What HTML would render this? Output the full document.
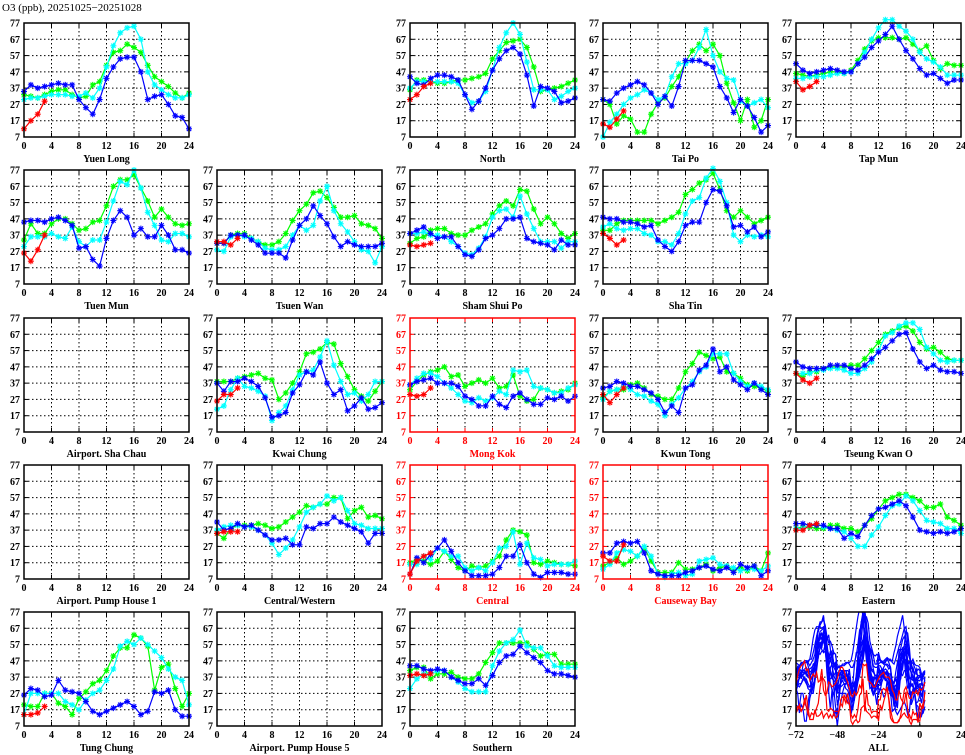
<!DOCTYPE html>
<html><head><meta charset="utf-8"><style>
body{margin:0;background:#fff;}
svg{display:block;font-family:"Liberation Serif",serif;}
</style></head><body>
<svg id="s" width="965" height="755" xmlns="http://www.w3.org/2000/svg"></svg>
<script>
const S=document.getElementById('s');
const cols=[24,217,410,603,796],rows=[23,170,318,465,612],W=165,H=114;
const P=[
[0,0,"Yuen Long",0,[12,17,21,29],[35,39,37,38,39,40,39,39,30,25,21,30,43,50,55,56,56,47,30,32,33,27,20,19,12],[30,31,31,32,33,33,33,32,32,34,31,37,50,63,71,74,75,67,47,39,36,33,31,31,33],[33,32,31,33,35,36,36,33,31,32,39,41,51,59,60,64,62,59,51,44,41,38,34,31,34]],
[0,2,"North",0,[30,33,38,40],[44,40,39,43,45,45,44,42,33,24,29,37,48,55,60,62,58,45,26,38,37,35,28,29,31],[37,41,41,41,41,41,41,40,33,28,29,35,48,62,71,77,70,53,36,36,36,30,32,35,37],[36,42,42,41,40,40,41,42,42,43,44,46,55,60,65,66,67,62,50,35,36,37,38,40,42]],
[0,3,"Tai Po",0,[15,13,18,23],[30,29,34,37,39,41,39,34,27,32,26,38,54,54,54,52,50,38,31,22,30,26,19,10,14],[7,16,21,27,31,33,36,34,30,32,44,52,52,54,62,73,57,47,43,42,29,26,28,30,25],[30,27,15,20,18,10,10,21,28,31,38,44,53,60,64,60,64,57,40,28,17,30,13,17,30]],
[0,4,"Tap Mun",0,[41,36,38,41],[52,48,46,47,48,49,48,47,47,52,56,62,66,70,75,67,60,55,49,45,46,43,40,42,42],[43,43,44,44,44,45,46,46,47,52,59,67,74,79,79,75,72,67,59,55,53,50,45,45,45],[46,45,44,45,46,47,47,46,48,54,61,66,68,68,68,67,68,64,60,63,54,49,52,51,51]],
[1,0,"Tuen Mun",0,[26,21,28,37],[45,46,46,45,47,48,46,43,29,30,22,18,35,46,52,48,37,41,36,36,43,37,28,28,26],[30,36,36,36,38,36,35,42,33,30,34,34,45,58,70,68,77,66,51,43,34,33,38,38,36],[34,44,38,38,44,47,47,44,40,41,45,46,55,67,71,71,74,66,58,48,53,48,44,43,44]],
[1,1,"Tsuen Wan",0,[33,33,31,35],[32,32,37,37,37,34,31,26,26,26,23,34,43,47,55,49,44,36,30,33,31,30,30,30,32],[28,27,36,37,36,35,33,29,28,28,30,37,43,40,43,58,67,52,44,39,33,28,27,20,30],[32,32,37,38,38,35,33,31,31,33,38,46,52,56,63,64,60,54,48,48,49,44,43,41,35]],
[1,2,"Sham Shui Po",0,[31,30,31,32],[38,40,42,38,35,36,36,30,25,24,28,35,37,41,47,47,48,35,33,32,31,28,34,31,31],[38,38,39,37,37,36,33,30,26,25,29,36,48,52,53,48,61,50,41,33,33,33,29,33,33],[32,35,36,40,41,41,38,37,37,40,42,44,50,55,58,55,65,64,53,44,48,44,38,35,38]],
[1,3,"Sha Tin",0,[38,35,31,34],[48,47,47,45,45,44,42,43,34,30,27,33,43,45,45,57,65,64,55,42,43,39,42,36,39],[42,44,41,40,41,41,38,37,33,33,31,38,50,58,60,72,78,70,57,37,33,37,36,37,36],[40,40,44,46,46,46,46,46,44,46,48,51,62,65,69,71,75,65,52,48,52,48,44,46,48]],
[2,0,"Airport. Sha Chau",0,null],
[2,1,"Kwai Chung",0,[26,30,30,34],[37,32,38,38,40,38,35,28,16,17,19,31,36,44,42,50,37,30,33,20,23,28,21,22,25],[21,23,33,40,35,34,32,29,14,19,23,33,42,44,45,53,63,48,38,30,31,26,30,38,38],[38,38,38,40,41,42,43,40,39,27,31,37,44,55,56,58,62,61,49,41,33,29,26,32,38]],
[2,2,"Mong Kok",1,[30,29,30,34],[36,38,39,40,37,37,37,35,29,27,23,23,29,24,22,29,31,27,24,24,28,27,29,26,29],[36,40,43,43,41,37,34,30,26,25,28,26,28,32,30,45,44,45,35,34,33,31,31,34,36],[33,38,42,44,45,47,41,42,35,37,39,37,40,34,35,42,29,26,27,34,33,31,32,33,37]],
[2,3,"Kwun Tong",0,[30,25,30,34],[34,35,38,37,35,35,33,31,27,19,23,19,34,36,45,48,58,44,47,39,36,33,37,33,30],[27,32,33,35,33,30,29,26,24,17,24,28,34,38,44,47,55,55,55,43,38,35,37,35,33],[28,32,33,33,36,37,34,30,29,27,27,34,44,49,56,54,52,53,44,43,40,36,35,34,32]],
[2,4,"Tseung Kwan O",0,[43,39,37,40],[50,47,46,46,46,48,48,48,46,45,48,52,56,59,63,67,68,58,50,46,48,45,44,44,43],[43,43,43,45,45,46,46,45,43,43,46,50,57,66,68,72,74,74,70,59,55,51,50,51,51],[43,41,44,44,46,47,47,47,48,48,52,57,62,67,69,71,72,69,62,58,59,56,52,51,51]],
[3,0,"Airport. Pump House 1",0,null],
[3,1,"Central/Western",0,[35,36,36,36],[42,37,38,41,39,40,37,34,31,31,32,28,28,39,38,41,41,45,42,40,38,36,29,35,35],[37,39,40,40,39,39,37,34,29,22,26,31,39,48,51,53,58,55,57,49,41,40,38,38,38],[35,32,38,40,40,40,41,40,38,39,42,45,48,52,51,53,53,57,57,44,49,51,45,46,44]],
[3,2,"Central",1,[10,18,21,23],[10,20,17,22,26,31,24,17,12,9,9,9,10,14,21,21,28,17,10,8,11,11,11,10,10],[16,16,21,19,26,24,21,21,14,12,14,12,17,26,27,36,16,29,20,19,15,16,16,16,18],[17,19,18,16,18,24,19,14,12,15,14,15,18,21,31,37,36,34,17,16,18,17,16,16,15]],
[3,3,"Causeway Bay",1,[21,18,18,28],[23,23,29,30,29,30,23,12,10,9,9,9,11,12,14,15,13,12,14,11,16,14,15,9,12],[13,16,23,25,24,21,27,21,10,8,10,11,9,10,18,19,20,16,15,14,12,13,13,12,15],[15,17,20,16,18,21,26,18,11,11,11,17,13,13,14,16,12,14,15,12,14,12,15,12,23]],
[3,4,"Eastern",0,[37,37,40,41],[41,41,40,40,40,38,38,32,35,33,40,46,50,51,53,55,52,45,37,36,35,36,35,36,38],[38,38,40,41,39,38,37,36,32,27,27,34,39,46,52,53,58,55,49,43,42,41,38,38,35],[38,39,39,38,38,40,40,38,38,36,40,44,50,55,57,59,59,57,55,51,51,53,45,43,40]],
[4,0,"Tung Chung",0,[14,14,15,19],[26,30,29,25,26,35,29,28,27,22,16,14,16,18,20,22,19,14,16,28,27,29,17,13,13],[14,27,27,27,27,27,22,20,17,23,27,29,35,42,56,59,57,61,57,53,49,42,37,35,20],[20,19,19,27,27,21,19,14,24,28,33,35,41,50,55,55,63,61,56,29,43,45,30,19,27]],
[4,1,"Airport. Pump House 5",0,null],
[4,2,"Southern",0,[38,39,38,39],[44,44,42,41,42,41,37,35,33,33,36,32,38,46,50,51,56,52,49,46,41,39,39,38,37],[30,36,39,39,41,41,37,34,30,28,28,28,44,53,58,60,66,56,55,55,50,44,43,43,43],[41,43,43,36,39,39,40,37,36,36,39,46,52,58,58,58,58,58,54,50,51,51,45,45,45]]
];
let h='';
const fy=(t,v)=>t+H-(v-7)/70*H;
function frame(x0,y0,title,red,xmin,xmax,xt){
  const c=red?'#f00':'#000';
  for(let v=17;v<=67;v+=10){const y=fy(y0,v).toFixed(1);h+=`<line x1="${x0}" x2="${x0+W}" y1="${y}" y2="${y}" stroke="#000" stroke-width="1" stroke-dasharray="1.5,2.5"/>`;}
  xt.forEach((t,i)=>{if(i>0&&i<xt.length-1){const x=(x0+(t-xmin)/(xmax-xmin)*W).toFixed(1);h+=`<line x1="${x}" x2="${x}" y1="${y0}" y2="${y0+H}" stroke="#000" stroke-width="1" stroke-dasharray="1.5,2.5"/>`;}});
  for(let v=7;v<=77;v+=10){const y=fy(y0,v);h+=`<text x="${x0-4}" y="${(y+3.5).toFixed(1)}" font-size="10" font-weight="bold" text-anchor="end" fill="${c}">${v}</text><line x1="${x0}" x2="${x0+4}" y1="${y}" y2="${y}" stroke="${c}"/><line x1="${x0+W-4}" x2="${x0+W}" y1="${y}" y2="${y}" stroke="${c}"/>`;}
  xt.forEach(t=>{const x=x0+(t-xmin)/(xmax-xmin)*W;h+=`<text x="${x}" y="${y0+H+12}" font-size="10" font-weight="bold" text-anchor="middle" fill="${c}">${t<0?'−'+(-t):t}</text><line x1="${x}" x2="${x}" y1="${y0+H-4}" y2="${y0+H}" stroke="${c}"/><line x1="${x}" x2="${x}" y1="${y0}" y2="${y0+4}" stroke="${c}"/>`;});
  h+=`<text x="${x0+W/2}" y="${y0+H+25}" font-size="10" font-weight="bold" text-anchor="middle" fill="${c}">${title}</text>`;
  return c;
}
function series(x0,y0,arr,col,mk,xmin,xmax,off){
  const pts=arr.map((v,i)=>[x0+(i+off-xmin)/(xmax-xmin)*W,fy(y0,v)]);
  h+=`<polyline fill="none" stroke="${col}" stroke-width="1.2" points="${pts.map(p=>p[0].toFixed(1)+','+p[1].toFixed(1)).join(' ')}"/>`;
  if(mk)pts.forEach(([x,y])=>{h+=`<path d="M${x-3} ${y}h6M${x} ${y-3}v6M${x-2.2} ${y-2.2}l4.4 4.4M${x-2.2} ${y+2.2}l4.4 -4.4" stroke="${col}" stroke-width="1.1"/>`;});
}
P.forEach(p=>{
  const x0=cols[p[1]],y0=rows[p[0]];
  const c=frame(x0,y0,p[2],p[3],0,24,[0,4,8,12,16,20,24]);
  if(p[4]){series(x0,y0,p[7],'#00ff00',1,0,24,0);series(x0,y0,p[6],'#00ffff',1,0,24,0);series(x0,y0,p[5],'#0000ff',1,0,24,0);series(x0,y0,p[4],'#ff0000',1,0,24,0);}
  h+=`<rect x="${x0}" y="${y0}" width="${W}" height="${H}" fill="none" stroke="${c}" stroke-width="1.5"/>`;
});
{const x0=796,y0=612;frame(x0,y0,"ALL",0,-72,24,[-72,-48,-24,0,24]);
 h+=`<clipPath id="cp"><rect x="${x0}" y="${y0}" width="${W}" height="${H}"/></clipPath><g clip-path="url(#cp)">`;
 const ord=P.filter(p=>p[4]).sort((a,b)=>a[3]-b[3]);
 ord.forEach(p=>{const a=[].concat(p[7].slice(0,24),p[6].slice(0,24),p[5].slice(0,24),p[4]).map(v=>Math.min(v,79));
  series(x0,y0,a,p[3]?'#ff0000':'#0000ff',0,-72,24,-72);});
 h+=`</g><rect x="${x0}" y="${y0}" width="${W}" height="${H}" fill="none" stroke="#000" stroke-width="1.5"/>`;}
h+=`<text x="2" y="11" font-size="11" fill="#000">O3 (ppb), 20251025−20251028</text>`;
S.innerHTML=h;
</script>
</body></html>
